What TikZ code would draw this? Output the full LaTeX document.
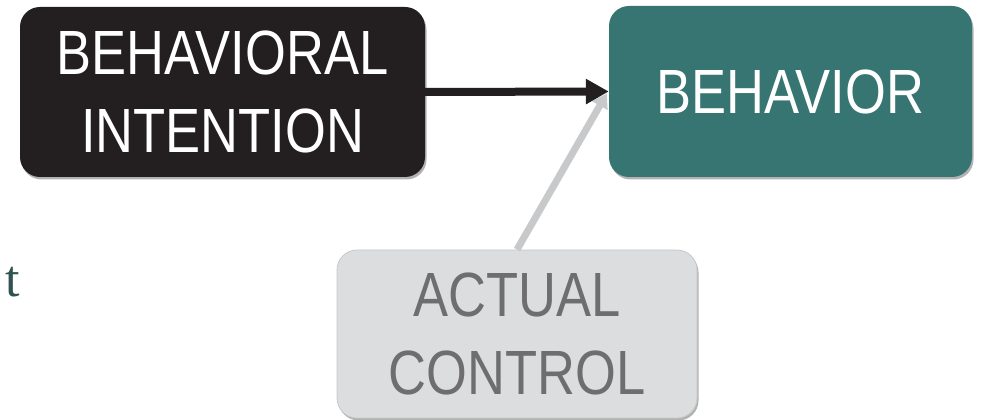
\documentclass[tikz,border=0pt]{standalone}
\usepackage{fontspec}
\setmainfont{Liberation Sans}[FakeStretch=0.84]
\newfontfamily\remnantfont{Liberation Serif}
\usetikzlibrary{
    arrows.meta,
    shadows
}
\definecolor{intention black}{HTML}{231F20}
\definecolor{behavior teal}{HTML}{367571}
\definecolor{control gray}{HTML}{DCDDDF}
\definecolor{control text}{HTML}{6E6E70}
\definecolor{control line}{HTML}{C8C9CB}
\definecolor{remnant teal}{HTML}{2F5350}
\tikzset{
    % Boxes
    box/.style={rounded corners=20pt,inner sep=0pt,align=center,
        font=\fontsize{62.5}{78}\selectfont,
        drop shadow={shadow xshift=1.5pt,shadow yshift=-2.5pt,opacity=.3,fill=black}},
    intention box/.style={box,fill=intention black,text=white},
    behavior box/.style={box,fill=behavior teal,text=white},
    control box/.style={box,fill=control gray,draw=control line,line width=.8pt,text=control text},
    %
    % Arrows
    arrow tip/.tip={Triangle[length=23pt,width=24pt]},
    small tip/.tip={Triangle[length=14pt,width=17pt]},
    arr/.style={-{arrow tip},line width=8pt,intention black},
    grayarr/.style={-{small tip},line width=7pt,control line}
}

\begin{document}
\begin{tikzpicture}[x=1pt,y=1pt]
    \useasboundingbox (0,0) rectangle (985,420);
    \node[intention box,minimum width=405pt,minimum height=170pt] (intention) at (222.5,328) {BEHAVIORAL\\INTENTION};
    \node[behavior box,minimum width=363pt,minimum height=171pt] (behavior) at (790.5,328.5) {BEHAVIOR};
    \node[control box,minimum width=360pt,minimum height=168pt] (control) at (517,86) {ACTUAL\\CONTROL};
    % leftover letter at the left edge
    \node[anchor=base east,inner sep=0pt,text=remnant teal,font=\remnantfont\fontsize{52}{60}\selectfont] (remnant) at (20,123) {t};
    
    \draw[grayarr] (control.north) -- ([xshift=-2pt,yshift=-2pt]behavior.west);
    \draw[arr] (intention.east) -- (behavior.west);
\end{tikzpicture}
\end{document}
